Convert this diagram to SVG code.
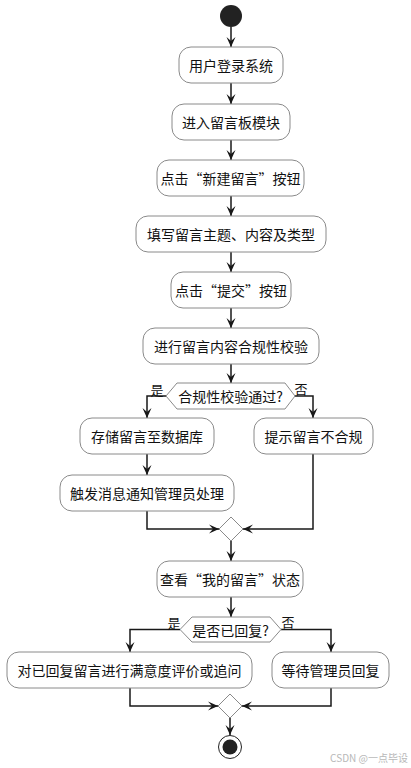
<svg xmlns="http://www.w3.org/2000/svg" width="411" height="768" viewBox="0 0 411 768">
<defs>
<style>
.box{fill:#ffffff;stroke:#8a8a8a;stroke-width:1}
.t{font-family:"Noto Sans CJK SC","Noto Sans",sans-serif;font-size:14px;fill:#111;text-anchor:middle;dominant-baseline:central}
.lbl{font-family:"Noto Sans CJK SC","Noto Sans",sans-serif;font-size:13px;fill:#111;text-anchor:middle;dominant-baseline:central}
.ln{fill:none;stroke:#181818;stroke-width:1.5}
.dia{fill:#ffffff;stroke:#8a8a8a;stroke-width:1}
</style>
<marker id="arr" viewBox="-11 -5 12 10" refX="0" refY="0" markerWidth="12" markerHeight="10" markerUnits="userSpaceOnUse" orient="auto">
<path d="M0,0 L-10,-4.5 L-6,0 L-10,4.5 Z" fill="#181818"/>
</marker>
</defs>

<g id="connectors">
<path class="ln" d="M231,27 V47" marker-end="url(#arr)"/>
<path class="ln" d="M231,83 V104" marker-end="url(#arr)"/>
<path class="ln" d="M231,140 V160" marker-end="url(#arr)"/>
<path class="ln" d="M231,196 V216" marker-end="url(#arr)"/>
<path class="ln" d="M231,252 V272" marker-end="url(#arr)"/>
<path class="ln" d="M231,308 V328" marker-end="url(#arr)"/>
<path class="ln" d="M231,364 V383" marker-end="url(#arr)"/>
<path class="ln" d="M166,396 H147 V418" marker-end="url(#arr)"/>
<path class="ln" d="M295,396 H313 V418" marker-end="url(#arr)"/>
<path class="ln" d="M147,454 V475" marker-end="url(#arr)"/>
<path class="ln" d="M147,511 V529 H219" marker-end="url(#arr)"/>
<path class="ln" d="M313,454 V529 H243" marker-end="url(#arr)"/>
<path class="ln" d="M231,541 V561" marker-end="url(#arr)"/>
<path class="ln" d="M231,597 V617" marker-end="url(#arr)"/>
<path class="ln" d="M180,629.5 H130 V652" marker-end="url(#arr)"/>
<path class="ln" d="M281,629.5 H331 V652" marker-end="url(#arr)"/>
<path class="ln" d="M130,688 V706 H218" marker-end="url(#arr)"/>
<path class="ln" d="M331,688 V706 H242" marker-end="url(#arr)"/>
<path class="ln" d="M230,718 V735" marker-end="url(#arr)"/>
</g>

<g id="start"><circle cx="231" cy="16" r="11" fill="#222222"/></g>

<g id="n1"><rect class="box" x="179" y="47" width="104" height="36" rx="12"/><text class="t" x="231" y="65">用户登录系统</text></g>
<g id="n2"><rect class="box" x="172" y="104" width="118" height="36" rx="12"/><text class="t" x="231" y="122">进入留言板模块</text></g>
<g id="n3"><rect class="box" x="157" y="160" width="147" height="36" rx="12"/><text class="t" x="230.5" y="178">点击“新建留言”按钮</text></g>
<g id="n4"><rect class="box" x="136" y="216" width="190" height="36" rx="12"/><text class="t" x="231" y="234">填写留言主题、内容及类型</text></g>
<g id="n5"><rect class="box" x="171" y="272" width="120" height="36" rx="12"/><text class="t" x="231" y="290">点击“提交”按钮</text></g>
<g id="n6"><rect class="box" x="143" y="328" width="176" height="36" rx="12"/><text class="t" x="231" y="346">进行留言内容合规性校验</text></g>

<g id="d1"><polygon class="dia" points="166,396 177,383 285,383 295,396 285,409 177,409"/><text class="t" x="230.5" y="396">合规性校验通过?</text>
<text class="lbl" x="157" y="389">是</text><text class="lbl" x="301" y="388">否</text></g>

<g id="n7"><rect class="box" x="80" y="418" width="134" height="36" rx="12"/><text class="t" x="147" y="436">存储留言至数据库</text></g>
<g id="n8"><rect class="box" x="254" y="418" width="119" height="36" rx="12"/><text class="t" x="313.5" y="436">提示留言不合规</text></g>
<g id="n9"><rect class="box" x="60" y="475" width="174" height="36" rx="12"/><text class="t" x="147" y="493">触发消息通知管理员处理</text></g>

<g id="m1"><polygon class="dia" points="231,517 243,529 231,541 219,529"/></g>

<g id="n10"><rect class="box" x="157" y="561" width="146" height="36" rx="12"/><text class="t" x="230" y="579">查看“我的留言”状态</text></g>

<g id="d2"><polygon class="dia" points="180,629.5 192,617 270,617 281,629.5 270,642 192,642"/><text class="t" x="230.5" y="629.5">是否已回复?</text>
<text class="lbl" x="174" y="622">是</text><text class="lbl" x="288" y="621">否</text></g>

<g id="n11"><rect class="box" x="7" y="652" width="245" height="36" rx="12"/><text class="t" x="129.5" y="670">对已回复留言进行满意度评价或追问</text></g>
<g id="n12"><rect class="box" x="272" y="652" width="117" height="36" rx="12"/><text class="t" x="330.5" y="670">等待管理员回复</text></g>

<g id="m2"><polygon class="dia" points="230,694 242,706 230,718 218,706"/></g>

<g id="end"><circle cx="230" cy="747" r="11.5" fill="#ffffff" stroke="#222222" stroke-width="1"/><circle cx="230" cy="747" r="7.5" fill="#222222"/></g>

<text x="408" y="757" style="font-family:'Noto Sans CJK SC','Noto Sans',sans-serif;font-size:10px;fill:#b8b8b8;text-anchor:end;dominant-baseline:central">CSDN @一点毕设</text>
</svg>
